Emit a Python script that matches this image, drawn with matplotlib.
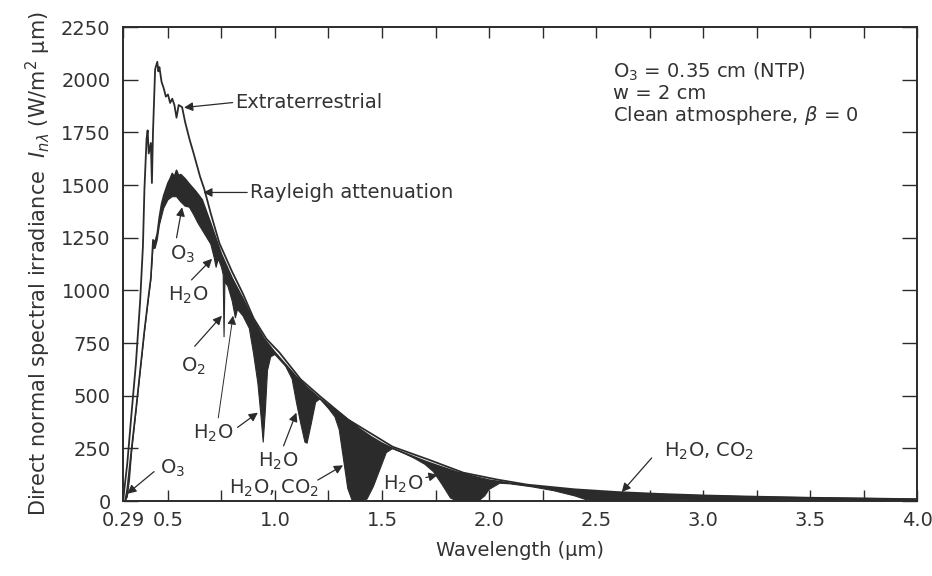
import matplotlib.pyplot as plt
import numpy as np

# ----------------- DATA -----------------
# extraterrestrial spectral irradiance (W/m2 um)
lam_ext = [0.29, 0.31, 0.33, 0.35, 0.36, 0.37, 0.383, 0.39, 0.40, 0.405, 0.41, 0.42,
           0.425, 0.43, 0.44, 0.45, 0.455, 0.46, 0.47, 0.48, 0.49, 0.50, 0.51, 0.52,
           0.53, 0.54, 0.55, 0.566, 0.58, 0.60, 0.62, 0.65, 0.67, 0.70, 0.74, 0.80,
           0.85, 0.90, 0.96, 1.02, 1.12, 1.21, 1.34, 1.55, 1.72, 1.88, 2.04, 2.18,
           2.40, 2.60, 2.80, 3.00, 3.20, 3.50, 3.80, 4.00]
ext = [0, 180, 420, 650, 800, 950, 1210, 1480, 1720, 1760, 1650, 1700,
       1510, 1750, 2050, 2085, 2040, 2060, 1990, 1960, 1920, 1930, 1890, 1910,
       1880, 1820, 1880, 1870, 1800, 1720, 1650, 1540, 1480, 1365, 1225, 1088,
       985, 868, 770, 706, 578, 498, 388, 258, 196, 135, 102, 78,
       56, 43, 34, 27, 22, 16, 12, 9]

# after Rayleigh attenuation (upper edge of the black absorption band)
lam_ray = [0.29, 0.30, 0.31, 0.33, 0.35, 0.37, 0.39, 0.41, 0.42, 0.43, 0.44, 0.45,
           0.46, 0.47, 0.48, 0.50, 0.51, 0.52, 0.53, 0.54, 0.55, 0.56, 0.58, 0.60,
           0.63, 0.66, 0.70, 0.75, 0.80, 0.85, 0.90, 0.95, 1.00, 1.05, 1.10, 1.15,
           1.20, 1.25, 1.30, 1.35, 1.40, 1.45, 1.50, 1.55, 1.60, 1.65, 1.70, 1.75,
           1.80, 1.85, 1.90, 1.95, 2.00, 2.10, 2.20, 2.30, 2.40, 2.50, 2.60, 2.80,
           3.00, 3.20, 3.50, 3.80, 4.00]
ray = [0, 0, 60, 250, 430, 620, 810, 980, 1060, 1240, 1230, 1270,
       1350, 1410, 1450, 1510, 1530, 1555, 1540, 1570, 1545, 1550, 1530, 1505,
       1470, 1430, 1318, 1172, 1058, 962, 857, 770, 706, 648, 590, 540,
       495, 455, 420, 380, 340, 305, 275, 250, 230, 210, 190, 172,
       155, 138, 125, 112, 100, 85, 72, 62, 52, 44, 39, 31,
       25, 20, 15, 11, 9]

# direct normal irradiance after molecular absorption (lower edge of the band)
lam_dir = [0.29, 0.30, 0.31, 0.32, 0.33, 0.35, 0.37, 0.39, 0.41, 0.42, 0.43, 0.44,
           0.45, 0.46, 0.48, 0.50, 0.52, 0.54, 0.56, 0.58, 0.60, 0.62, 0.64, 0.67,
           0.70, 0.715, 0.725, 0.735, 0.75, 0.758, 0.762, 0.766, 0.78, 0.80, 0.815,
           0.825, 0.85, 0.88, 0.90, 0.92, 0.935, 0.945, 0.955, 0.965, 0.98, 1.00,
           1.05, 1.08, 1.10, 1.12, 1.14, 1.15, 1.17, 1.19, 1.21, 1.25, 1.28, 1.30,
           1.32, 1.34, 1.36, 1.40, 1.43, 1.46, 1.49, 1.52, 1.55, 1.60, 1.65, 1.70,
           1.74, 1.78, 1.82, 1.85, 1.95, 1.98, 2.00, 2.05, 2.10, 2.20, 2.30, 2.40,
           2.45, 2.50, 2.70, 2.90, 3.10, 3.40, 3.70, 4.00]
direct = [0, 0, 20, 100, 230, 420, 610, 800, 970, 1050, 1200, 1200,
          1240, 1310, 1390, 1430, 1445, 1445, 1420, 1400, 1395, 1360, 1320, 1270,
          1220, 1160, 1110, 1150, 1110, 1075, 780, 1040, 1020, 950, 870,
          910, 880, 820, 700, 560, 400, 280, 430, 620, 685, 696,
          640, 580, 470, 370, 280, 275, 370, 470, 485, 440, 400, 340,
          200, 60, 5, 0, 10, 70, 150, 230, 250, 228, 204, 175,
          140, 80, 15, 0, 0, 25, 55, 85, 82, 68, 50, 25,
          8, 2, 4, 6, 4, 6, 5, 2]

x_tick_labels = ["0.29", "0.5", "1.0", "1.5", "2.0", "2.5", "3.0", "3.5", "4.0"]
y_ticks = [0, 250, 500, 750, 1000, 1250, 1500, 1750, 2000, 2250]

INK = "#2b2b2b"
TXT = "#333333"
FS = 14

plt.rcParams["font.family"] = ["DejaVu Sans"]
plt.rcParams["mathtext.fontset"] = "dejavusans"

fig = plt.figure(figsize=(9.32, 5.76), dpi=100)
ax = fig.add_axes([0.132, 0.130, 0.852, 0.823])

# black absorption band between Rayleigh curve and final direct curve
poly_x = np.concatenate([lam_ray, lam_dir[::-1]])
poly_y = np.concatenate([ray, direct[::-1]])
ax.fill(poly_x, poly_y, color=INK, lw=0)

ax.plot(lam_ray, ray, color=INK, lw=1.2)
ax.plot(lam_dir, direct, color=INK, lw=0.8)
ax.plot(lam_ext, ext, color=INK, lw=1.3)

ax.set_xlim(0.29, 4.0)
ax.set_ylim(0, 2250)

xt = [float(v) for v in x_tick_labels]
ax.set_xticks(xt)
ax.set_xticklabels(x_tick_labels)
ax.set_xticks(np.arange(0.75, 4.0, 0.5), minor=True)
ax.set_yticks(y_ticks)
ax.set_yticklabels([str(v) for v in y_ticks])

ax.tick_params(axis="x", which="both", direction="in", top=True, bottom=True,
               length=8, width=1.0, color=INK, labelsize=FS, labelcolor=TXT, pad=7)
ax.tick_params(axis="y", which="both", direction="in", left=True, right=True,
               length=11, width=1.0, color=INK, labelsize=FS, labelcolor=TXT, pad=9)
for s in ax.spines.values():
    s.set_color(INK)
    s.set_linewidth(1.4)

ax.set_xlabel("Wavelength (μm)", fontsize=FS, color=TXT, labelpad=8)
ax.set_ylabel(r"Direct normal spectral irradiance  $I_{n\lambda}$ (W/m$^2$ μm)",
              fontsize=15, color=TXT, labelpad=6)

# parameter block
ax.text(2.58, 2090, "O$_3$ = 0.35 cm (NTP)\nw = 2 cm\nClean atmosphere, $\\beta$ = 0",
        fontsize=FS, color=TXT, ha="left", va="top", linespacing=1.05)

arrow = dict(arrowstyle="-|>", color=INK, lw=0.9, mutation_scale=13,
             shrinkA=0, shrinkB=0)

ax.annotate("Extraterrestrial", xy=(0.575, 1868), xytext=(0.815, 1893),
            fontsize=FS, color=TXT, ha="left", va="center",
            arrowprops=dict(arrow, relpos=(0, 0.5)))
ax.annotate("Rayleigh attenuation", xy=(0.665, 1465), xytext=(0.883, 1465),
            fontsize=FS, color=TXT, ha="left", va="center",
            arrowprops=dict(arrow, relpos=(0, 0.5)))

# gas labels with separate arrows
ax.text(0.57, 1170, "O$_3$", fontsize=FS, color=TXT, ha="center", va="center")
ax.annotate("", xy=(0.566, 1395), xytext=(0.54, 1250), arrowprops=arrow)

ax.text(0.594, 975, "H$_2$O", fontsize=FS, color=TXT, ha="center", va="center")
ax.annotate("", xy=(0.706, 1150), xytext=(0.61, 1050), arrowprops=arrow)

ax.text(0.617, 640, "O$_2$", fontsize=FS, color=TXT, ha="center", va="center")
ax.annotate("", xy=(0.752, 880), xytext=(0.625, 735), arrowprops=arrow)

ax.text(0.71, 320, "H$_2$O", fontsize=FS, color=TXT, ha="center", va="center")
ax.annotate("", xy=(0.804, 880), xytext=(0.735, 395),
            arrowprops=dict(arrow, lw=0.7))
ax.annotate("", xy=(0.92, 420), xytext=(0.825, 350), arrowprops=arrow)

ax.text(1.014, 190, "H$_2$O", fontsize=FS, color=TXT, ha="center", va="center")
ax.annotate("", xy=(1.10, 420), xytext=(1.04, 262), arrowprops=arrow)

ax.text(0.996, 62, "H$_2$O, CO$_2$", fontsize=FS, color=TXT, ha="center", va="center")
ax.annotate("", xy=(1.318, 170), xytext=(1.20, 100), arrowprops=arrow)

ax.text(1.60, 80, "H$_2$O", fontsize=FS, color=TXT, ha="center", va="center")
ax.annotate("", xy=(1.76, 124), xytext=(1.705, 112), arrowprops=arrow)

ax.text(3.03, 235, "H$_2$O, CO$_2$", fontsize=FS, color=TXT, ha="center", va="center")
ax.annotate("", xy=(2.62, 43), xytext=(2.76, 205), arrowprops=arrow)

ax.text(0.52, 157, "O$_3$", fontsize=FS, color=TXT, ha="center", va="center")
ax.annotate("", xy=(0.31, 35), xytext=(0.435, 140), arrowprops=arrow)

fig.savefig("out.png", dpi=100, facecolor="white")
